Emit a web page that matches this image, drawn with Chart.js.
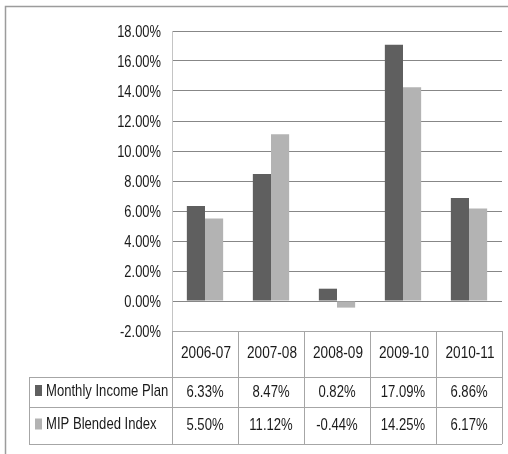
<!DOCTYPE html>
<html>
<head>
<meta charset="utf-8">
<script src="https://cdn.jsdelivr.net/npm/chart.js@4"></script>
<style>
  html, body { margin: 0; padding: 0; background: #fff; }
  #wrap { width: 508px; height: 454px; position: relative; }
</style>
</head>
<body>
<div id="wrap"><canvas id="mipChart" width="508" height="454"></canvas></div>
<script>
const years = ['2006-07', '2007-08', '2008-09', '2009-10', '2010-11'];
const monthlyIncomePlan = [6.33, 8.47, 0.82, 17.09, 6.86];
const mipBlendedIndex = [5.50, 11.12, -0.44, 14.25, 6.17];
const seriesNames = ['Monthly Income Plan', 'MIP Blended Index'];
const seriesColors = ['#5f5f5f', '#b3b3b3'];

const FONT = "17px 'Liberation Sans', Arial, sans-serif";
const textColor = '#1a1a1a';
const lineGray = '#a6a6a6';

// the reference font is a squeezed one, so text is drawn scaled horizontally
function squeezedText(ctx, text, x, y, align, sx) {
  ctx.save();
  ctx.translate(x, y);
  ctx.scale(sx, 1);
  ctx.textAlign = align;
  ctx.fillText(text, 0, 0);
  ctx.restore();
}

const dataTablePlugin = {
  id: 'dataTable',
  afterDraw(chart) {
    const ctx = chart.ctx;
    const x = chart.scales.x;
    const yScale = chart.scales.y;
    const area = chart.chartArea;
    const half = (x.getPixelForTick(1) - x.getPixelForTick(0)) / 2;
    const top = area.bottom;
    const rowLines = [top, top + 46, top + 76, top + 113];
    const legendLeft = 29;

    ctx.save();
    // outer frame
    ctx.strokeStyle = '#9c9c9c';
    ctx.lineWidth = 1.5;
    ctx.beginPath();
    ctx.moveTo(5.5, chart.height);
    ctx.lineTo(5.5, 6.5);
    ctx.lineTo(chart.width, 6.5);
    ctx.stroke();

    // table grid
    ctx.strokeStyle = lineGray;
    ctx.lineWidth = 1;
    ctx.beginPath();
    ctx.moveTo(area.left, rowLines[0] + 0.5);
    ctx.lineTo(area.right, rowLines[0] + 0.5);
    for (let i = 1; i < rowLines.length; i++) {
      ctx.moveTo(legendLeft, rowLines[i] + 0.5);
      ctx.lineTo(area.right, rowLines[i] + 0.5);
    }
    ctx.moveTo(legendLeft + 0.5, rowLines[1]);
    ctx.lineTo(legendLeft + 0.5, rowLines[3]);
    years.forEach((y, i) => {
      const edge = Math.round(x.getPixelForTick(i) + half) + 0.5;
      ctx.moveTo(edge, rowLines[0]);
      ctx.lineTo(edge, rowLines[3]);
    });
    ctx.moveTo(Math.round(area.left) + 0.5, rowLines[0]);
    ctx.lineTo(Math.round(area.left) + 0.5, rowLines[3]);
    ctx.stroke();

    ctx.fillStyle = textColor;
    ctx.font = FONT;
    ctx.textBaseline = 'middle';

    // y tick labels
    yScale.ticks.forEach(t => {
      squeezedText(ctx, t.value.toFixed(2) + '%', area.left - 11, yScale.getPixelForValue(t.value) + 1, 'right', 0.76);
    });

    const rows = [monthlyIncomePlan, mipBlendedIndex];
    years.forEach((y, i) => {
      const cx = x.getPixelForTick(i);
      squeezedText(ctx, y, cx + 1, (rowLines[0] + rowLines[1]) / 2 - 1, 'center', 0.8);
      rows.forEach((vals, r) => {
        squeezedText(ctx, vals[i].toFixed(2) + '%', cx, (rowLines[r + 1] + rowLines[r + 2]) / 2, 'center', 0.77);
      });
    });

    // legend keys and series names
    seriesNames.forEach((name, r) => {
      const cy = (rowLines[r + 1] + rowLines[r + 2]) / 2 - 1;
      ctx.fillStyle = seriesColors[r];
      ctx.fillRect(35, cy - 6, 7, 11);
      ctx.fillStyle = textColor;
      squeezedText(ctx, name, 46, cy, 'left', 0.77);
    });
    ctx.restore();
  }
};

const ctx = document.getElementById('mipChart').getContext('2d');
const chart = new Chart(ctx, {
  type: 'bar',
  data: {
    labels: years,
    datasets: [
      { label: seriesNames[0], data: monthlyIncomePlan, backgroundColor: seriesColors[0] },
      { label: seriesNames[1], data: mipBlendedIndex, backgroundColor: seriesColors[1] }
    ]
  },
  options: {
    responsive: false,
    animation: false,
    events: [],
    categoryPercentage: 0.55,
    barPercentage: 1,
    layout: { padding: { left: 0, top: 31, right: 6, bottom: 123 } },
    scales: {
      x: { display: false },
      y: {
        min: -2,
        max: 18,
        afterFit(scale) { scale.width = 172; },
        border: { display: true, color: '#c4c4c4', width: 1 },
        grid: { color: '#878787', lineWidth: 1, drawTicks: false },
        ticks: { stepSize: 2, display: false }
      }
    },
    plugins: {
      legend: { display: false },
      tooltip: { enabled: false },
      title: { display: false }
    }
  },
  plugins: [dataTablePlugin]
});
</script>
</body>
</html>
